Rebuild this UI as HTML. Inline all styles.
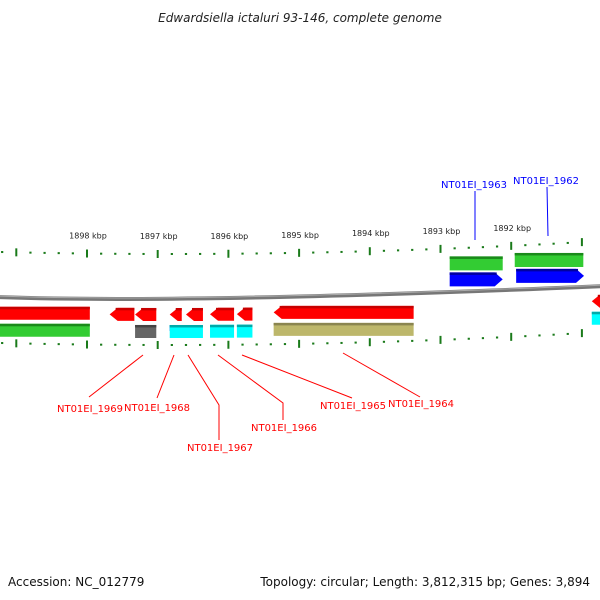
<!DOCTYPE html>
<html><head><meta charset="utf-8"><style>
body{margin:0;background:#fff;}
svg{display:block;font-family:"DejaVu Sans","Liberation Sans",sans-serif;}
</style></head><body>
<svg id="c" width="600" height="600" viewBox="0 0 600 600">
<text x="300" y="22" text-anchor="middle" font-size="12" font-style="italic" fill="#222">Edwardsiella ictaluri 93-146, complete genome</text>
<path d="M-5,297 Q180,304 605,286" stroke="#777" stroke-width="4" fill="none"/>
<path d="M-5,296 Q180,303 605,285" stroke="#aaa" stroke-width="1" fill="none"/>
<text x="8" y="586" font-size="12" fill="#111">Accession: NC_012779</text>
<text x="590" y="586" font-size="12" fill="#111" text-anchor="end">Topology: circular; Length: 3,812,315 bp; Genes: 3,894</text>
<g id="g"></g>
</svg>
<script>
const tickKbp=[1898,1897,1896,1895,1894,1893,1892];
const geneStart=[1899.4,1897.68,1897.32,1896.83,1896.6,1896.26,1895.88,1895.36,1899.4,1897.32,1896.83,1896.83,1896.26,1895.88,1895.36,1892.87,1891.95,1892.87,1891.93,1890.86,1890.86];
const geneEnd=[1897.96,1897.33,1897.02,1896.66,1896.36,1895.92,1895.66,1893.38,1897.96,1897.02,1896.66,1896.36,1895.92,1895.66,1893.38,1892.12,1890.98,1892.12,1890.97,1890.5,1890.5];
const geneRow=[1,1,1,1,1,1,1,1,2,2,2,2,2,2,2,-2,-2,-1,-1,1,2];
const geneColor=["red","red","red","red","red","red","red","red","green","gray","blue","cyan","cyan","cyan","khaki","green","green","blue","blue","red","cyan"];
const geneArrow=[0,1,1,1,1,1,1,1,0,0,0,0,0,0,0,0,0,2,2,1,0];
const redLabels=["NT01EI_1969","NT01EI_1968","NT01EI_1967","NT01EI_1966","NT01EI_1965","NT01EI_1964"];
const blueLabels=["NT01EI_1963","NT01EI_1962"];
const xk=k=>87+(1898-k)*70.7;
const yb=x=>300-7e-5*(x-170)*(x-170);
const NS="http://www.w3.org/2000/svg",G=document.getElementById('g');
function mk(t,a){const e=document.createElementNS(NS,t);for(const k in a)e.setAttribute(k,a[k]);G.appendChild(e);return e;}
const pal={red:["#ff0000","#c80000"],green:["#33cc33","#1a8a1a"],gray:["#666","#444"],blue:["#0000ff","#0000a0"],cyan:["#00ffff","#00aaaa"],khaki:["#bdb76b","#8a8550"]};
for(let k=1899.4;k>=1890.8;k-=0.2){const kk=Math.round(k*10)/10;const x=xk(kk);const major=Math.abs(kk-Math.round(kk))<0.01;
 [-46,45].forEach(o=>{const y=yb(x)+o;const e=mk('line',{x1:x,x2:x,y1:major?y-4:y-1,y2:major?y+4:y+1,stroke:'#1a7a1a','stroke-width':major?2:2.2});
 
 });}
tickKbp.forEach(k=>{const x=xk(k);const t=mk('text',{x:x+1,y:yb(x)-61,'font-size':8,'text-anchor':'middle',fill:'#222'});t.textContent=k+' kbp';
 
 });
const rowOff={1:8,2:25,'-2':-37,'-1':-21};
geneStart.forEach((s,i)=>{const x1=xk(s),x2=xk(geneEnd[i]);const r=geneRow[i];const h=(r==2&&geneColor[i]=='blue')?6:(r<0?14:13);
 const c=pal[geneColor[i]];const xm=(x1+x2)/2;const y=yb(xm)+rowOff[r];const a=geneArrow[i];let d;
 if(a==1){d=`M${x1},${y+h/2} L${x1+8},${y} L${x2},${y} L${x2},${y+h} L${x1+8},${y+h}Z`;}
 else if(a==2){d=`M${x1},${y} L${x2-8},${y} L${x2},${y+h/2} L${x2-8},${y+h} L${x1},${y+h}Z`;}
 else d=`M${x1},${y} L${x2},${y} L${x2},${y+h} L${x1},${y+h}Z`;
 const p=mk('path',{d:d,fill:c[0]});
 
 
 mk('rect',{x:x1+(a==1?6:0),y:y,width:Math.max(0,x2-x1-(a?6:0)),height:2.5,fill:c[1]});});
const redLines=[[[143,355],[89,397]],[[174,355],[157,398]],[[188,355],[219,405],[219,440]],[[218,355],[283,403],[283,420]],[[242,355],[352,398]],[[343,353],[420,397]]];
const redPos=[[90,412],[157,411],[220,451],[284,431],[353,409],[421,407]];
redLabels.forEach((l,i)=>{const pl=mk('polyline',{points:redLines[i].map(p=>p.join(',')).join(' '),fill:'none',stroke:'#ff0000','stroke-width':1});
 
 
 const t=mk('text',{x:redPos[i][0],y:redPos[i][1],'font-size':10,'text-anchor':'middle',fill:'#ff0000'});t.textContent=l;
 
 });
const bluePos=[[474,188,475,191,475,240],[546,184,547,187,548,236]];
blueLabels.forEach((l,i)=>{const b=bluePos[i];const ln=mk('line',{x1:b[2],y1:b[3],x2:b[4],y2:b[5],stroke:'#0000ff'});
 
 
 const t=mk('text',{x:b[0],y:b[1],'font-size':10,'text-anchor':'middle',fill:'#0000ff'});t.textContent=l;
 
 });
</script>
</body></html>
